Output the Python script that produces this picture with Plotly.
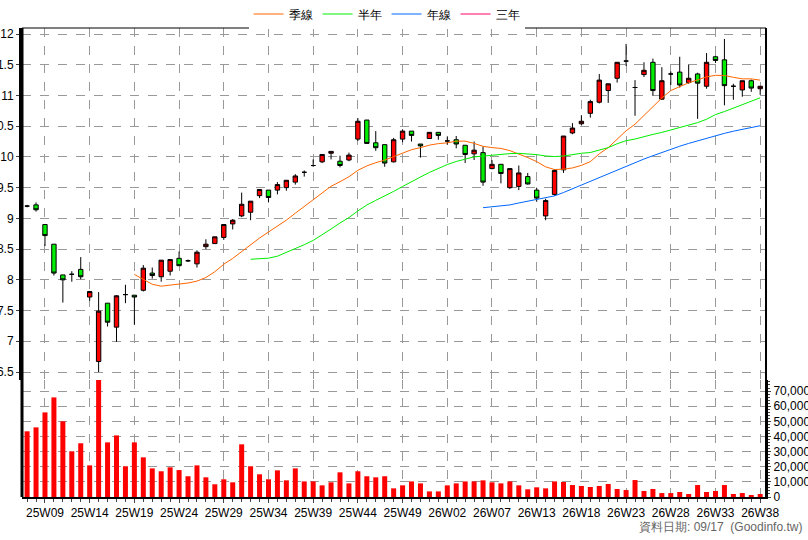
import plotly.graph_objects as go
import pandas as pd

week_ticks = ["25W09","25W14","25W19","25W24","25W29","25W34","25W39","25W44","25W49",
              "26W02","26W07","26W13","26W18","26W23","26W28","26W33","26W38"]

opens = [9.20,9.22,8.90,8.58,8.08,8.09,8.17,7.72,6.67,7.62,7.23,7.76,7.75,7.83,8.11,8.05,8.14,8.35,8.31,8.26,8.54,
         8.59,8.69,8.91,9.04,9.10,9.37,9.46,9.46,9.50,9.59,9.75,9.86,9.92,10.06,9.93,9.95,10.29,10.60,10.23,10.20,9.92,
         10.29,10.42,10.21,10.30,10.40,10.26,10.28,10.19,10.05,10.07,9.81,9.88,9.50,9.52,9.68,9.46,9.04,9.39,9.79,10.39,
         10.54,10.71,10.89,11.08,11.28,11.56,11.13,11.34,11.54,10.94,11.35,11.38,11.21,11.35,11.15,11.63,11.58,11.15,11.09,11.24,11.11]
closes = [9.20,9.14,8.72,8.11,8.00,8.09,8.05,7.81,7.49,7.31,7.74,7.76,7.72,8.19,8.07,8.32,8.33,8.23,8.31,8.45,8.58,
          8.70,8.90,8.97,9.23,9.28,9.47,9.34,9.55,9.62,9.69,9.75,9.86,10.04,10.09,9.86,10.03,10.58,10.22,10.15,9.90,10.28,
          10.42,10.35,10.18,10.40,10.35,10.26,10.21,10.04,10.11,9.59,9.88,9.73,9.81,9.74,9.56,9.33,9.29,9.78,10.34,10.47,
          10.58,10.90,11.25,11.19,11.54,11.56,11.13,11.41,11.08,11.24,11.35,11.17,11.28,11.20,11.54,11.57,11.16,11.15,11.24,11.12,11.15]
highs = [9.22,9.26,8.90,8.58,8.08,8.14,8.37,7.82,7.80,7.62,7.75,7.92,7.75,8.24,8.20,8.32,8.33,8.46,8.33,8.48,8.66,
         8.70,8.90,8.99,9.42,9.28,9.47,9.46,9.59,9.62,9.72,9.78,9.96,10.04,10.09,10.02,10.07,10.63,10.60,10.42,10.20,10.31,
         10.45,10.42,10.21,10.40,10.40,10.33,10.34,10.19,10.25,10.17,9.95,9.88,9.81,9.86,9.74,9.50,9.32,9.80,10.34,10.55,
         10.68,10.93,11.35,11.19,11.54,11.84,11.25,11.54,11.60,11.46,11.39,11.63,11.50,11.37,11.69,11.65,11.92,11.19,11.24,11.26,11.15]
lows = [9.18,9.11,8.55,8.07,7.63,7.97,8.01,7.66,6.50,7.24,6.99,7.62,7.27,7.81,8.02,7.97,8.07,8.23,8.29,8.20,8.50,
        8.59,8.65,8.82,9.02,8.97,9.33,9.26,9.39,9.45,9.55,9.68,9.84,9.90,9.96,9.83,9.93,10.26,10.21,10.10,9.84,9.91,
        10.24,10.25,9.99,10.30,10.28,10.20,10.14,9.90,9.95,9.53,9.80,9.57,9.48,9.46,9.55,9.27,8.97,9.37,9.74,10.37,
        10.52,10.64,10.87,10.88,11.21,11.48,10.67,11.30,11.00,10.93,11.17,11.13,11.19,10.62,11.11,11.53,10.84,10.93,10.98,11.06,11.01]
volumes = [43400,46000,55900,65800,50000,30200,35500,20900,77700,36100,40700,20300,36100,26200,18900,17000,19600,17800,13700,20900,13000,
           8400,11700,9700,34800,20300,15000,11700,17600,11000,18900,10300,10300,7700,9700,16300,9000,17000,13700,13000,13700,5700,
           7700,10300,9000,3700,3700,7700,9000,10300,10300,11000,9700,9000,10300,7700,5100,6400,5700,10300,9900,7900,
           7300,6600,7300,8600,5300,4600,11200,4000,5300,2600,2600,3300,2000,7900,3300,4000,7900,2000,2600,1300,2000]

n = len(closes)
x = list(range(n))
s = pd.Series(closes)
ma13 = s.rolling(13).mean()
ma26 = s.rolling(26).mean()
ma52 = s.rolling(52).mean()

fig = go.Figure()
fig.add_trace(go.Bar(x=x, y=volumes, marker_color="#ff0000", marker_line_width=0, width=0.56,
                     yaxis="y2", showlegend=False, hoverinfo="skip"))
fig.add_trace(go.Candlestick(x=x, open=opens, high=highs, low=lows, close=closes,
                             increasing=dict(line=dict(color="black", width=1), fillcolor="#ff0000"),
                             decreasing=dict(line=dict(color="black", width=1), fillcolor="#00ee00"),
                             whiskerwidth=0, showlegend=False, hoverinfo="skip"))
fig.add_trace(go.Scatter(x=x, y=ma13, mode="lines", line=dict(color="#ff6600", width=1), name="季線"))
fig.add_trace(go.Scatter(x=x, y=ma26, mode="lines", line=dict(color="#00ee00", width=1), name="半年"))
fig.add_trace(go.Scatter(x=x, y=ma52, mode="lines", line=dict(color="#0066ff", width=1), name="年線"))
fig.add_trace(go.Scatter(x=[None], y=[None], mode="lines", line=dict(color="#ff0066", width=1), name="三年"))

H = 469
vdom = 117 / H
grid = dict(showgrid=True, gridcolor="#999999", griddash="dash", gridwidth=1)
fig.update_layout(
    width=808, height=540, margin=dict(l=22, r=42, t=28, b=43, autoexpand=False),
    paper_bgcolor="white", plot_bgcolor="white",
    font=dict(family="Liberation Sans, Arial", size=12, color="black"),
    showlegend=True,
    legend=dict(orientation="h", x=0.49, xanchor="center", y=1.0 + 14 / H, yanchor="middle",
                font=dict(size=12), itemwidth=30, tracegroupgap=0),
    xaxis=dict(range=[-0.57, 82.65], tickmode="array", tickvals=list(range(2, n, 5)), anchor="y2",
               ticktext=week_ticks, rangeslider=dict(visible=False), ticks="outside", ticklen=4,
               linecolor="black", linewidth=2, zeroline=False, automargin=False,
               minor=dict(ticks="outside", ticklen=3, dtick=1, tick0=0, showgrid=False), **grid),
    yaxis=dict(domain=[vdom, 1], range=[6.37, 12.098], dtick=0.5, tick0=6.5, side="left",
               automargin=False, ticks="outside", ticklen=3, linecolor="black", linewidth=3,
               tickformat="~g", zeroline=False, **grid),
    yaxis2=dict(domain=[0, vdom], range=[0, 77300], dtick=10000, side="right", anchor="x",
                automargin=False, tickformat=",", ticks="outside", ticklen=3,
                tickfont=dict(size=12),
                minor=dict(ticks="outside", ticklen=2, dtick=2000, showgrid=False),
                linecolor="black", linewidth=2, zeroline=False, **grid),
)
fig.add_shape(type="line", xref="paper", yref="paper", x0=1, x1=1, y0=0, y1=1,
              line=dict(color="black", width=2))
fig.add_shape(type="line", xref="paper", yref="paper", x0=0, x1=0, y0=0, y1=1,
              line=dict(color="black", width=3))
fig.add_shape(type="line", xref="paper", yref="paper", x0=0, x1=1, y0=1, y1=1,
              line=dict(color="black", width=1))
fig.add_annotation(text="資料日期: 09/17  (Goodinfo.tw)", xref="paper", yref="paper",
                   x=1 + 38 / 744, y=-30 / H, xanchor="right", yanchor="middle", showarrow=False,
                   font=dict(color="#666666", size=12))
fig.write_html("out.html", config={"displayModeBar": False},
               post_script="document.body.style.margin='0';")
